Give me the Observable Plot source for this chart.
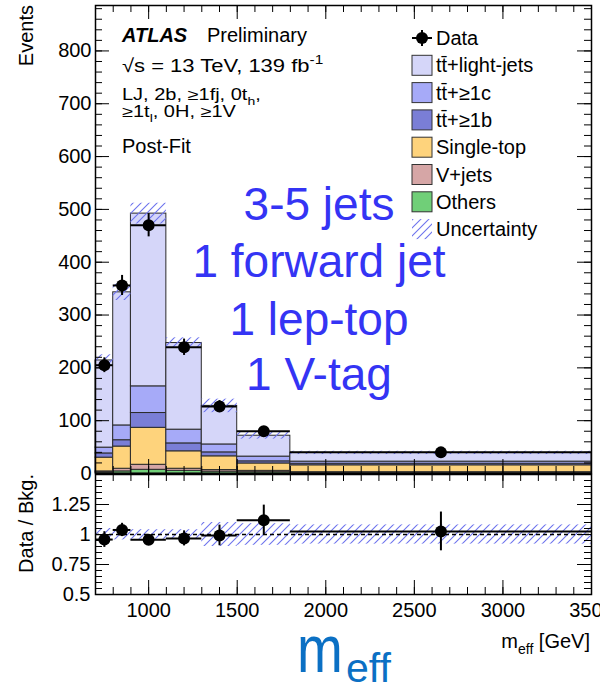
<!DOCTYPE html>
<html><head><meta charset="utf-8">
<script src="https://cdn.jsdelivr.net/npm/d3@7"></script>
<script src="https://cdn.jsdelivr.net/npm/@observablehq/plot@0.6"></script>
<style>
body{margin:0;background:#fff;}
#wrap{position:relative;width:600px;height:685px;overflow:hidden;background:#fff;}
#wrap svg{position:absolute;left:0;overflow:visible;}
</style></head><body><div id="wrap"></div>
<script>
// ---------------- data ----------------
const binEdges   = [700, 800, 900, 1100, 1300, 1500, 1800, 3500];
const binCenters = [750, 850, 1000, 1200, 1400, 1650, 2650];
const dataEvents = [205, 356, 470, 239, 127, 80, 40];
const dataErr    = [14, 19, 22, 15.5, 11, 9, 6.3];
const others     = [2, 4, 7, 5, 3.5, 2.5, 1];
const vjets      = [2, 5, 9.5, 4, 3, 2.5, 1.5];
const singleTop  = [26, 42, 70, 33, 26, 14, 13];
const ttb        = [8, 12, 28, 15, 7.5, 4, 3];
const ttc        = [11, 28, 50.5, 26, 15, 9, 4];
const ttlight    = [165, 252, 327, 164, 73, 39.5, 16.5];
const relUnc     = [0.05, 0.045, 0.04, 0.04, 0.1, 0.09, 0.08];
const seriesNames  = ["Others", "V+jets", "Single-top", "tt\u0304+\u22651b", "tt\u0304+\u22651c", "tt\u0304+light-jets"];
const seriesColors = ["#70cf78", "#d6a6a6", "#fed37c", "#7a7ed6", "#a6aaf8", "#d5d6f9"];
const mainYTicks  = [0, 100, 200, 300, 400, 500, 600, 700, 800];
const ratioYTicks = [0.5, 0.75, 1, 1.25];
const xTicks      = [1000, 1500, 2000, 2500, 3000, 3500];
const blueLines   = ["3-5 jets", "1 forward jet", "1 lep-top", "1 V-tag"];

const FONT = '"Liberation Sans", Arial, Helvetica, sans-serif';
const wrap = document.getElementById("wrap");

// ---------------- derived tables ----------------
const comps = [others, vjets, singleTop, ttb, ttc, ttlight];
const bins = binCenters.map((c, i) => ({x1: binEdges[i], x2: binEdges[i + 1], c, data: dataEvents[i], err: dataErr[i], u: relUnc[i]}));
const stackRows = [];
bins.forEach((b, i) => {
  let acc = 0;
  comps.forEach((arr, k) => {
    stackRows.push({x1: b.x1, x2: b.x2, y1: acc, y2: acc + arr[i], name: seriesNames[k]});
    acc += arr[i];
  });
  b.total = acc;
  b.ratio = b.data / acc;
  b.rerr = b.err / acc;
});

function addHatch(svg, id) {
  const p = d3.select(svg).insert("defs", ":first-child").append("pattern")
    .attr("id", id).attr("patternUnits", "userSpaceOnUse").attr("width", 8).attr("height", 8);
  p.append("path").attr("d", "M-2,2 L2,-2 M0,8 L8,0 M6,10 L10,6")
    .attr("stroke", "#6d73ee").attr("stroke-width", 1.1).attr("fill", "none");
}

const W = 600 - 95 - 9;
// ---------------- main panel ----------------
const mainH = 478, mainInner = mainH - 10;
const main = Plot.plot({
  width: 600, height: mainH,
  marginLeft: 95, marginRight: 9, marginTop: 5, marginBottom: 5,
  style: {fontFamily: FONT, fontSize: "20px", background: "transparent", color: "black", overflow: "visible"},
  x: {domain: [700, 3500], axis: null},
  y: {domain: [0, 886]},
  color: {domain: seriesNames, range: seriesColors},
  marks: [
    Plot.rect(stackRows, {x1: "x1", x2: "x2", y1: "y1", y2: "y2", fill: "name", stroke: "#2b2b2b", strokeWidth: 1}),
    Plot.rect(bins, {x1: "x1", x2: "x2", y1: d => d.total * (1 - d.u), y2: d => d.total * (1 + d.u), fill: "url(#hatchMain)"}),
    Plot.ruleY(bins, {y: "data", x1: "x1", x2: "x2", stroke: "black", strokeWidth: 2}),
    Plot.ruleX(bins, {x: "c", y1: d => d.data - d.err, y2: d => d.data + d.err, stroke: "black", strokeWidth: 2}),
    Plot.dot(bins, {x: "c", y: "data", r: 6, fill: "black"}),
    Plot.tickY(mainYTicks, {y: d => d, insetRight: W - 14}),
    Plot.tickY(mainYTicks, {y: d => d, insetLeft: W - 14}),
    Plot.tickY(d3.range(0, 886, 20), {y: d => d, insetRight: W - 7}),
    Plot.tickY(d3.range(0, 886, 20), {y: d => d, insetLeft: W - 7}),
    Plot.tickX(xTicks, {x: d => d, insetTop: mainInner - 14}),
    Plot.tickX(xTicks, {x: d => d, insetBottom: mainInner - 14}),
    Plot.tickX(d3.range(800, 3500, 100), {x: d => d, insetTop: mainInner - 7}),
    Plot.tickX(d3.range(800, 3500, 100), {x: d => d, insetBottom: mainInner - 7}),
    Plot.axisY(mainYTicks, {tickSize: 0, tickPadding: 4, label: null, tickFormat: d => String(d), fontSize: 20}),
    Plot.frame({stroke: "black", strokeWidth: 1.5})
  ]
});
addHatch(main, "hatchMain");
main.style.top = "0px";
wrap.appendChild(main);

// ---------------- ratio panel ----------------
const ratH = 215, ratInner = ratH - 4 - 91;
const ratio = Plot.plot({
  width: 600, height: ratH,
  marginLeft: 95, marginRight: 9, marginTop: 4, marginBottom: 91,
  style: {fontFamily: FONT, fontSize: "20px", background: "transparent", color: "black"},
  x: {domain: [700, 3500]},
  y: {domain: [0.5, 1.5]},
  marks: [
    Plot.rect(bins, {x1: "x1", x2: "x2", y1: d => 1 - d.u, y2: d => 1 + d.u, fill: "url(#hatchRatio)"}),
    Plot.ruleY([1], {stroke: "black", strokeWidth: 1.3, strokeDasharray: "4,3"}),
    Plot.ruleY(bins, {y: "ratio", x1: "x1", x2: "x2", stroke: "black", strokeWidth: 2}),
    Plot.ruleX(bins, {x: "c", y1: d => d.ratio - d.rerr, y2: d => d.ratio + d.rerr, stroke: "black", strokeWidth: 2}),
    Plot.dot(bins, {x: "c", y: "ratio", r: 6, fill: "black"}),
    Plot.tickY(d3.range(0.5, 1.51, 0.25), {y: d => d, insetRight: W - 14}),
    Plot.tickY(d3.range(0.5, 1.51, 0.25), {y: d => d, insetLeft: W - 14}),
    Plot.tickY(d3.range(0.5, 1.5, 0.05), {y: d => d, insetRight: W - 7}),
    Plot.tickY(d3.range(0.5, 1.5, 0.05), {y: d => d, insetLeft: W - 7}),
    Plot.tickX(xTicks, {x: d => d, insetTop: ratInner - 14}),
    Plot.tickX(xTicks, {x: d => d, insetBottom: ratInner - 14}),
    Plot.tickX(d3.range(800, 3500, 100), {x: d => d, insetTop: ratInner - 7}),
    Plot.tickX(d3.range(800, 3500, 100), {x: d => d, insetBottom: ratInner - 7}),
    Plot.axisY(ratioYTicks, {tickSize: 0, tickPadding: 5, label: null, tickFormat: d => String(d), fontSize: 20}),
    Plot.axisX(xTicks, {tickSize: 0, tickPadding: 8, label: null, tickFormat: d => String(d), fontSize: 20}),
    Plot.frame({stroke: "black", strokeWidth: 1.5})
  ]
});
addHatch(ratio, "hatchRatio");
ratio.style.top = "470px";
wrap.appendChild(ratio);

// ---------------- annotations & legend ----------------
const ov = d3.create("svg").attr("width", 600).attr("height", 685)
  .style("top", "0px").style("font-family", FONT);
addHatch(ov.node(), "hatchLeg");

// parts: strings, or {t, sub:true} (subscript) / {t} (superscript)
function txt(x, y, parts, size, attrs = {}) {
  const t = ov.append("text").attr("x", x).attr("y", y).attr("font-size", size);
  for (const k in attrs) t.attr(k, attrs[k]);
  let cur = 0;
  parts.forEach(p => {
    const piece = typeof p === "string" ? {t: p, plain: true} : p;
    const want = piece.plain ? 0 : (piece.sub ? size * 0.3 : -size * 0.45);
    const ts = t.append("tspan").text(piece.t);
    if (want - cur !== 0) ts.attr("dy", want - cur);
    if (!piece.plain) ts.attr("font-size", size * 0.7);
    cur = want;
  });
  return t;
}

// axis titles
txt(0, 0, ["Events"], 20, {transform: "translate(33,5) rotate(-90)", "text-anchor": "end"});
txt(0, 0, ["Data / Bkg."], 20, {transform: "translate(33,474) rotate(-90)", "text-anchor": "end"});
txt(590, 648, ["m", {t: "eff", sub: true}, " [GeV]"], 20, {"text-anchor": "end"});

// ATLAS block
txt(122, 42, ["ATLAS"], 20, {"font-weight": "bold", "font-style": "italic"});
txt(207, 42, ["Preliminary"], 20);
txt(0, 0, ["\u221As = 13 TeV, 139 fb", {t: "-1"}], 22, {transform: "translate(122,72) scale(1,0.85)"});
txt(0, 0, ["LJ, 2b, \u22651fj, 0t", {t: "h", sub: true}, ","], 20, {transform: "translate(122,100) scale(1,0.78)"});
txt(0, 0, ["\u22651t", {t: "l", sub: true}, ", 0H, \u22651V"], 20, {transform: "translate(122,117) scale(1,0.78)"});
txt(122, 153, ["Post-Fit"], 20);

// blue category text
const blueY = [220, 277, 335, 390];
blueLines.forEach((s, i) => txt(319, blueY[i], [s], 46, {"text-anchor": "middle", fill: "#3434f4"}));

// big m_eff
ov.append("text").attr("transform", "translate(297,672) scale(1,1.22)").attr("fill", "#0b70c4").attr("font-size", 55).text("m");
ov.append("text").attr("x", 346).attr("y", 682).attr("fill", "#0b70c4").attr("font-size", 41).text("eff");

// legend
const legX = 412, legTx = 436;
const legRows = [
  {label: "Data", kind: "data"},
  {label: seriesNames[5], color: seriesColors[5]},
  {label: seriesNames[4], color: seriesColors[4]},
  {label: seriesNames[3], color: seriesColors[3]},
  {label: seriesNames[2], color: seriesColors[2]},
  {label: seriesNames[1], color: seriesColors[1]},
  {label: seriesNames[0], color: seriesColors[0]},
  {label: "Uncertainty", kind: "hatch"}
];
legRows.forEach((r, i) => {
  const cy = 38 + i * 27.3;
  if (r.kind === "data") {
    ov.append("line").attr("x1", legX).attr("x2", legX + 20).attr("y1", cy).attr("y2", cy).attr("stroke", "black").attr("stroke-width", 2);
    ov.append("line").attr("x1", legX + 10).attr("x2", legX + 10).attr("y1", cy - 8).attr("y2", cy + 8).attr("stroke", "black").attr("stroke-width", 2);
    ov.append("circle").attr("cx", legX + 10).attr("cy", cy).attr("r", 6).attr("fill", "black");
  } else if (r.kind === "hatch") {
    ov.append("rect").attr("x", legX).attr("y", cy - 10).attr("width", 20).attr("height", 20).attr("fill", "url(#hatchLeg)");
  } else {
    ov.append("rect").attr("x", legX).attr("y", cy - 10).attr("width", 20).attr("height", 20).attr("fill", r.color).attr("stroke", "#333").attr("stroke-width", 1);
  }
  txt(legTx, cy + 7, [r.label], 20);
});

wrap.appendChild(ov.node());
</script></body></html>
